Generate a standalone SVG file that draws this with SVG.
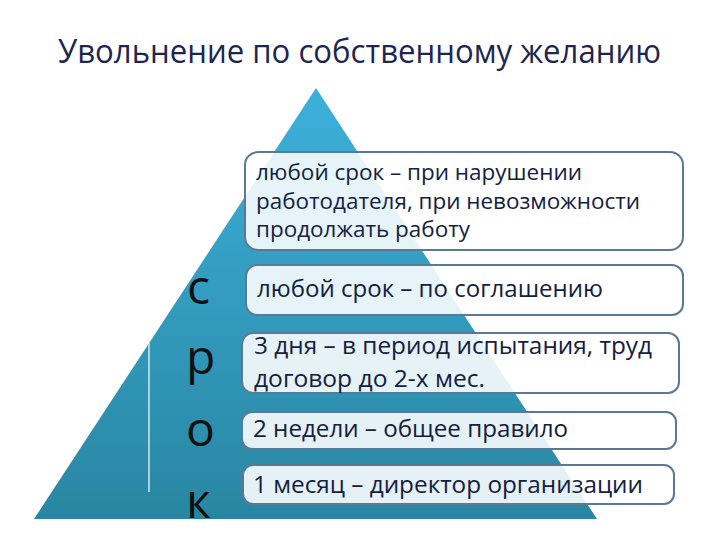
<svg xmlns="http://www.w3.org/2000/svg" width="720" height="540" viewBox="0 0 720 540">
  <defs>
    <linearGradient id="pyr" x1="0" y1="0" x2="0" y2="1">
      <stop offset="0" stop-color="#3cb0da"/>
      <stop offset="1" stop-color="#2986a2"/>
    </linearGradient>
    <clipPath id="clipBase">
      <rect x="0" y="0" width="720" height="519"/>
    </clipPath>
    <style>
      .title { font-family: "Open Sans", "Noto Sans", sans-serif; font-size: 32px; fill: #1c2650; }
      .box { fill: #ffffff; fill-opacity: 0.88; stroke: #5b7895; stroke-width: 2; }
      .t1 { font-family: "Open Sans", "Noto Sans", sans-serif; font-size: 21px; fill: #14203f; }
      .t2 { font-family: "Open Sans", "Noto Sans", sans-serif; font-size: 23px; fill: #14203f; }
      .big { font-family: "Open Sans", "Noto Sans", sans-serif; font-size: 48px; fill: #111111; }
    </style>
  </defs>
  <rect width="720" height="540" fill="#ffffff"/>
  <text class="title" x="58" y="63" textLength="603" lengthAdjust="spacingAndGlyphs">Увольнение по собственному желанию</text>

  <g id="pyramid">
    <polygon points="316,88 34,519 597,519" fill="url(#pyr)"/>
    <line x1="149" y1="343" x2="149" y2="492" stroke="#ffffff" stroke-width="1.2"/>
  </g>

  <g id="srok" clip-path="url(#clipBase)">
    <text class="big" x="187" y="304">с</text>
    <text class="big" x="186" y="374">р</text>
    <text class="big" x="186" y="446">о</text>
    <text class="big" x="186" y="518">к</text>
  </g>

  <g id="connectors"></g>

  <g id="box1">
    <rect class="box" x="245" y="152" width="438" height="98" rx="13"/>
    <text class="t1" x="256" y="180" textLength="326" lengthAdjust="spacingAndGlyphs">любой срок – при нарушении</text>
    <text class="t1" x="256" y="209" textLength="384" lengthAdjust="spacingAndGlyphs">работодателя, при невозможности</text>
    <text class="t1" x="256" y="237" textLength="214" lengthAdjust="spacingAndGlyphs">продолжать работу</text>
  </g>
  <g id="box2">
    <rect class="box" x="246" y="265" width="437" height="50" rx="11"/>
    <text class="t2" x="257" y="297" textLength="346" lengthAdjust="spacingAndGlyphs">любой срок – по соглашению</text>
  </g>
  <g id="box3">
    <rect class="box" x="242" y="333" width="437" height="60" rx="11"/>
    <text class="t2" x="254" y="354" textLength="398" lengthAdjust="spacingAndGlyphs">3 дня – в период испытания, труд</text>
    <text class="t2" x="254" y="387" textLength="231" lengthAdjust="spacingAndGlyphs">договор до 2-х мес.</text>
  </g>
  <g id="box4">
    <rect class="box" x="242" y="412" width="434" height="37" rx="10"/>
    <text class="t2" x="253" y="437" textLength="315" lengthAdjust="spacingAndGlyphs">2 недели – общее правило</text>
  </g>
  <g id="box5">
    <rect class="box" x="243" y="465" width="431" height="39" rx="10"/>
    <text class="t2" x="253" y="493" textLength="390" lengthAdjust="spacingAndGlyphs">1 месяц – директор организации</text>
  </g>
</svg>
